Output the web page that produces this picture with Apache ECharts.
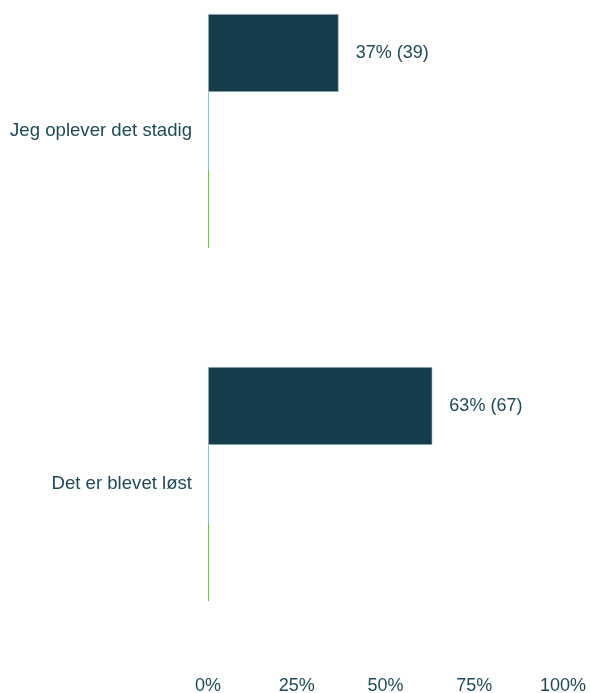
<!DOCTYPE html>
<html>
<head>
<meta charset="utf-8">
<script src="https://cdn.jsdelivr.net/npm/echarts@6/dist/echarts.min.js"></script>
<style>
  html, body { margin: 0; padding: 0; background: #fff; }
  #main { width: 590px; height: 693px; }
</style>
</head>
<body>
<div id="main"></div>
<script>
// data
var categories = ['Jeg oplever det stadig', 'Det er blevet løst'];
var darkValues = [36.8, 63.2];   // percent
var darkCounts = [39, 67];
var cyanValues = [0, 0];
var greenValues = [0, 0];
var xTicks = [0, 25, 50, 75, 100];

var textColor = '#1d4a57';
var font = 'Liberation Sans, Arial, sans-serif';

var chart = echarts.init(document.getElementById('main'));

var option = {
  animation: false,
  grid: {
    left: 208, right: 27, top: -45.5, bottom: 32.5,
    containLabel: false,
    outerBoundsMode: 'none'
  },
  xAxis: {
    type: 'value',
    min: xTicks[0],
    max: xTicks[xTicks.length - 1],
    interval: 25,
    axisLine: { show: false },
    axisTick: { show: false },
    splitLine: { show: false },
    axisLabel: {
      formatter: '{value}%',
      color: textColor,
      fontFamily: font,
      fontSize: 18,
      margin: 17
    }
  },
  yAxis: {
    type: 'category',
    data: categories,
    inverse: true,
    axisLine: { show: false },
    axisTick: { show: false },
    axisLabel: {
      color: textColor,
      fontFamily: font,
      fontSize: 18.6,
      margin: 16
    }
  },
  series: [
    {
      type: 'bar',
      data: darkValues,
      barGap: '0%',
      barCategoryGap: '33.7%',
      itemStyle: { color: '#143c4a', borderColor: '#c8d6db', borderWidth: 0.6 },
      label: {
        show: true,
        position: 'right',
        distance: 17,
        color: textColor,
        fontFamily: font,
        fontSize: 18,
        formatter: function (p) {
          return Math.round(p.value) + '% (' + darkCounts[p.dataIndex] + ')';
        }
      }
    },
    {
      type: 'bar',
      data: cyanValues,
      barMinHeight: 1,
      itemStyle: { color: '#7cccd9' }
    },
    {
      type: 'bar',
      data: greenValues,
      barMinHeight: 1,
      itemStyle: { color: '#66cc33' }
    }
  ]
};

chart.setOption(option);
</script>
</body>
</html>
